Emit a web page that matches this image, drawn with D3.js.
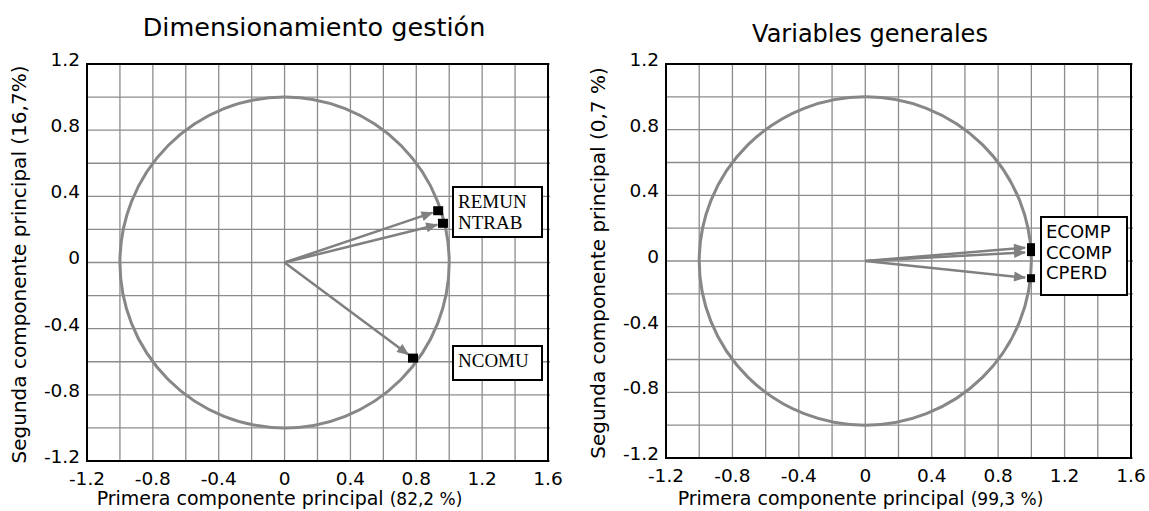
<!DOCTYPE html>
<html>
<head>
<meta charset="utf-8">
<script src="https://cdn.jsdelivr.net/npm/d3@7"></script>
<style>
  body { margin: 0; background: #fff; }
  text { font-family: "DejaVu Sans", Verdana, sans-serif; fill: #000; }
</style>
</head>
<body>
<div id="chart"></div>
<script>
// Tick labels shared by both panels
const ticksX = [-1.2, -0.8, -0.4, 0, 0.4, 0.8, 1.2, 1.6];
const ticksY = [-1.2, -0.8, -0.4, 0, 0.4, 0.8, 1.2];
const gridStep = [-1.2, -1, -0.8, -0.6, -0.4, -0.2, 0, 0.2, 0.4, 0.6, 0.8, 1, 1.2, 1.4, 1.6];

// Left panel: Dimensionamiento gestión
const leftVars = ["REMUN", "NTRAB", "NCOMU"];
const leftPC1 = [0.933, 0.962, 0.78];
const leftPC2 = [0.313, 0.237, -0.578];

// Right panel: Variables generales
const rightVars = ["ECOMP", "CCOMP", "CPERD"];
const rightPC1 = [0.998, 0.998, 0.998];
const rightPC2 = [0.084, 0.054, -0.105];

const width = 1149;
const height = 511;

const svg = d3.select("#chart")
  .append("svg")
  .attr("width", width)
  .attr("height", height);

// arrow head
svg.append("defs").append("marker")
  .attr("id", "arrow")
  .attr("viewBox", "0 0 12 10")
  .attr("refX", 11)
  .attr("refY", 5)
  .attr("markerUnits", "userSpaceOnUse")
  .attr("markerWidth", 13)
  .attr("markerHeight", 10)
  .attr("orient", "auto")
  .append("path")
  .attr("d", "M0,0 L12,5 L0,10 Z")
  .attr("fill", "#808080");

const panels = [
  {
    title: "Dimensionamiento gestión", titleX: 314, titleY: 36, titleSize: 25.5,
    xTitle: "Primera componente principal ", xPct: "(82,2 %)",
    yTitle: "Segunda componente principal (16,7%)",
    box: { x0: 87, x1: 548, y0: 64, y1: 461 },
    names: leftVars, pc1: leftPC1, pc2: leftPC2,
    sq: [10, 9], serif: true,
    label: [
      { x: 453, y: 187, w: 89, h: 50, rows: [0, 1] },
      { x: 453, y: 346, w: 89, h: 34, rows: [2] }
    ]
  },
  {
    title: "Variables generales", titleX: 870, titleY: 42, titleSize: 24,
    xTitle: "Primera componente principal ", xPct: "(99,3 %)",
    yTitle: "Segunda componente principal (0,7 %)",
    box: { x0: 666, x1: 1131, y0: 64, y1: 458 },
    names: rightVars, pc1: rightPC1, pc2: rightPC2,
    sq: [8, 8], serif: false,
    label: [
      { x: 1041, y: 217, w: 86, h: 78, rows: [0, 1, 2] }
    ]
  }
];

panels.forEach(p => {
  const b = p.box;
  const x = d3.scaleLinear().domain([-1.2, 1.6]).range([b.x0, b.x1]);
  const y = d3.scaleLinear().domain([-1.2, 1.2]).range([b.y1, b.y0]);
  const g = svg.append("g");

  // grid
  g.selectAll(".vgrid")
    .data(gridStep)
    .enter()
    .append("line")
    .attr("x1", d => x(d)).attr("x2", d => x(d))
    .attr("y1", b.y0).attr("y2", b.y1)
    .attr("stroke", "#8c8c8c")
    .attr("stroke-width", 1.3);

  g.selectAll(".hgrid")
    .data(gridStep.filter(d => d <= 1.2))
    .enter()
    .append("line")
    .attr("x1", b.x0).attr("x2", b.x1 + 2)
    .attr("y1", d => y(d)).attr("y2", d => y(d))
    .attr("stroke", "#8c8c8c")
    .attr("stroke-width", 1.3);

  // frame
  g.append("rect")
    .attr("x", b.x0).attr("y", b.y0)
    .attr("width", b.x1 - b.x0).attr("height", b.y1 - b.y0)
    .attr("fill", "none")
    .attr("stroke", "#000")
    .attr("stroke-width", 2);

  // unit circle
  g.append("ellipse")
    .attr("cx", x(0)).attr("cy", y(0))
    .attr("rx", x(1) - x(0)).attr("ry", y(0) - y(1))
    .attr("fill", "none")
    .attr("stroke", "#878787")
    .attr("stroke-width", 3);

  // tick labels
  g.selectAll(".xt")
    .data(ticksX)
    .enter()
    .append("text")
    .attr("x", d => x(d))
    .attr("y", b.y1 + 24)
    .attr("text-anchor", "middle")
    .style("font-size", "18.5px")
    .text(d => d === 0 ? "0" : d.toFixed(1));

  g.selectAll(".yt")
    .data(ticksY)
    .enter()
    .append("text")
    .attr("x", b.x0 - 7)
    .attr("y", d => y(d))
    .attr("dy", "0.1em")
    .attr("text-anchor", "end")
    .style("font-size", "18.5px")
    .text(d => d === 0 ? "0" : d.toFixed(1));

  // titles
  g.append("text")
    .attr("x", p.titleX)
    .attr("y", p.titleY)
    .attr("text-anchor", "middle")
    .style("font-size", p.titleSize + "px")
    .text(p.title);

  const xt = g.append("text")
    .attr("x", (b.x0 + b.x1) / 2 - 38)
    .attr("y", 505)
    .attr("text-anchor", "middle")
    .style("font-size", "19px");
  xt.append("tspan").text(p.xTitle);
  xt.append("tspan").style("font-size", "17px").text(p.xPct);

  g.append("text")
    .attr("transform", `translate(${b.x0 - 61},${(b.y0 + b.y1) / 2 + 2}) rotate(-90)`)
    .attr("text-anchor", "middle")
    .style("font-size", "20px")
    .text(p.yTitle);

  // vectors
  const pts = p.names.map((n, i) => ({ name: n, px: x(p.pc1[i]), py: y(p.pc2[i]) }));
  g.selectAll(".vec")
    .data(pts)
    .enter()
    .append("line")
    .attr("x1", x(0)).attr("y1", y(0))
    .attr("x2", d => {
      const dx = d.px - x(0), dy = d.py - y(0), l = Math.hypot(dx, dy);
      return d.px - dx / l * 6;
    })
    .attr("y2", d => {
      const dx = d.px - x(0), dy = d.py - y(0), l = Math.hypot(dx, dy);
      return d.py - dy / l * 6;
    })
    .attr("stroke", "#808080")
    .attr("stroke-width", 2.5)
    .attr("marker-end", "url(#arrow)");

  g.selectAll(".pt")
    .data(pts)
    .enter()
    .append("rect")
    .attr("x", d => d.px - p.sq[0] / 2)
    .attr("y", d => d.py - p.sq[1] / 2)
    .attr("width", p.sq[0])
    .attr("height", p.sq[1])
    .attr("fill", "#000");

  // label boxes
  p.label.forEach(lb => {
    g.append("rect")
      .attr("x", lb.x).attr("y", lb.y)
      .attr("width", lb.w).attr("height", lb.h)
      .attr("fill", "#fff")
      .attr("stroke", "#000")
      .attr("stroke-width", 2);
    lb.rows.forEach((r, k) => {
      g.append("text")
        .attr("x", lb.x + 5)
        .attr("y", lb.y + 21 + k * (p.serif ? 21 : 20.5))
        .style("font-family", p.serif ? "'Liberation Serif', 'Times New Roman', serif" : "'DejaVu Sans', Verdana, sans-serif")
        .style("font-size", p.serif ? "19px" : "18px")
        .text(p.names[r]);
    });
  });
});
</script>
</body>
</html>
